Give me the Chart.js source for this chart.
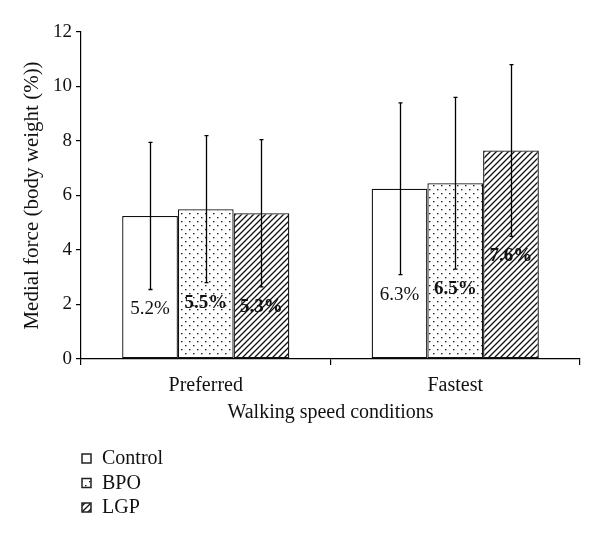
<!DOCTYPE html>
<html>
<head>
<meta charset="utf-8">
<script src="https://cdn.jsdelivr.net/npm/chart.js@4.4.0/dist/chart.umd.min.js"></script>
<style>
  html, body { margin: 0; padding: 0; background: #fff; }
  #wrap { width: 600px; height: 539px; position: relative; }
</style>
</head>
<body>
<div id="wrap"><canvas id="chart" width="600" height="539"></canvas></div>
<script>
// Datos
const categories = ['Preferred', 'Fastest'];
const seriesNames = ['Control', 'BPO', 'LGP'];
const controlMean = [5.25, 6.25];
const bpoMean = [5.5, 6.45];
const lgpMean = [5.35, 7.65];
const controlSD = [2.7, 3.15];
const bpoSD = [2.7, 3.15];
const lgpSD = [2.7, 3.15];
const controlLabels = ['5.2%', '6.3%'];
const bpoLabels = ['5.5%', '6.5%'];
const lgpLabels = ['5.3%', '7.6%'];
const yTicks = [0, 2, 4, 6, 8, 10, 12];

const FONT = '"Liberation Serif", "DejaVu Serif", serif';

// Patrones de relleno
function dotPattern() {
    const c = document.createElement('canvas');
    c.width = 8; c.height = 8;
    const g = c.getContext('2d');
    g.fillStyle = '#fff';
    g.fillRect(0, 0, 8, 8);
    g.fillStyle = '#222';
    g.fillRect(1, 1, 1.5, 1.3);
    g.fillRect(5, 5, 1.5, 1.3);
    return g.createPattern(c, 'repeat');
}

function hatchPattern() {
    const s = 6;
    const c = document.createElement('canvas');
    c.width = s; c.height = s;
    const g = c.getContext('2d');
    g.fillStyle = '#fff';
    g.fillRect(0, 0, s, s);
    g.strokeStyle = '#111';
    g.lineWidth = 1.3;
    g.beginPath();
    g.moveTo(-1, s + 1); g.lineTo(s + 1, -1);
    g.moveTo(-1, 1); g.lineTo(1, -1);
    g.moveTo(s - 1, s + 1); g.lineTo(s + 1, s - 1);
    g.stroke();
    return g.createPattern(c, 'repeat');
}

const fills = ['#ffffff', dotPattern(), hatchPattern()];
const sds = [controlSD, bpoSD, lgpSD];
const valueLabels = [controlLabels, bpoLabels, lgpLabels];
const boldLabel = [false, true, true];

// Barras de error y etiquetas
const errorBars = {
    id: 'errorBars',
    afterDatasetsDraw(chart) {
        const ctx = chart.ctx;
        const y = chart.scales.y;
        ctx.save();
        chart.data.datasets.forEach((ds, i) => {
            const meta = chart.getDatasetMeta(i);
            meta.data.forEach((bar, j) => {
                const m = ds.data[j];
                const sd = sds[i][j];
                const yt = y.getPixelForValue(m + sd);
                const yb = y.getPixelForValue(m - sd);
                const x = Math.round(bar.x) + 0.5;
                ctx.strokeStyle = '#000';
                ctx.lineWidth = 1.3;
                ctx.beginPath();
                ctx.moveTo(x, yt); ctx.lineTo(x, yb);
                ctx.moveTo(x - 2, yt); ctx.lineTo(x + 2, yt);
                ctx.moveTo(x - 2, yb); ctx.lineTo(x + 2, yb);
                ctx.stroke();
                ctx.fillStyle = '#111';
                ctx.font = (boldLabel[i] ? 'bold ' : '') + '19px ' + FONT;
                ctx.textAlign = 'center';
                ctx.textBaseline = 'middle';
                ctx.fillText(valueLabels[i][j], bar.x, yb + 20);
            });
        });
        ctx.restore();
    }
};

// Leyenda vertical abajo a la izquierda
const legendBox = {
    id: 'legendBox',
    afterDraw(chart) {
        const ctx = chart.ctx;
        ctx.save();
        chart.data.datasets.forEach((ds, i) => {
            const cy = 459 + i * 24.5;
            ctx.fillStyle = ds.backgroundColor;
            ctx.fillRect(82, cy - 5, 9, 9);
            ctx.strokeStyle = '#222';
            ctx.lineWidth = 1.5;
            ctx.strokeRect(82, cy - 5, 9, 9);
            ctx.fillStyle = '#111';
            ctx.font = '20px ' + FONT;
            ctx.textAlign = 'left';
            ctx.textBaseline = 'middle';
            ctx.fillText(ds.label, 102, cy);
        });
        ctx.restore();
    }
};

new Chart(document.getElementById('chart'), {
    type: 'bar',
    data: {
        labels: categories,
        datasets: [
            { label: seriesNames[0], data: controlMean, backgroundColor: fills[0] },
            { label: seriesNames[1], data: bpoMean, backgroundColor: fills[1] },
            { label: seriesNames[2], data: lgpMean, backgroundColor: fills[2] }
        ].map(d => Object.assign(d, { borderColor: '#111', borderWidth: 1.3, borderSkipped: false }))
    },
    options: {
        responsive: false,
        animation: false,
        layout: { padding: { top: 32, right: 20, bottom: 110, left: 0 } },
        datasets: { bar: { categoryPercentage: 0.67, barPercentage: 1 } },
        plugins: { legend: { display: false }, tooltip: { enabled: false } },
        scales: {
            x: {
                offset: true,
                grid: { offset: true, drawOnChartArea: false, tickLength: 6, color: '#000', lineWidth: 1.2 },
                border: { color: '#000', width: 1.2 },
                ticks: { color: '#111', font: { family: FONT, size: 20 }, padding: 9 },
                title: { display: true, text: 'Walking speed conditions', color: '#111', font: { family: FONT, size: 20 }, padding: { top: 2 } },
                afterFit: s => { s.height = 70; }
            },
            y: {
                min: 0,
                max: 12,
                afterBuildTicks: s => { s.ticks = yTicks.map(v => ({ value: v })); },
                grid: { drawOnChartArea: false, tickLength: 5, color: '#000', lineWidth: 1.2 },
                border: { color: '#000', width: 1.2 },
                ticks: { color: '#111', font: { family: FONT, size: 19 }, padding: 4 },
                title: { display: true, text: 'Medial force (body weight (%))', color: '#111', font: { family: FONT, size: 21 }, padding: { top: 20, bottom: 6 } },
                afterFit: s => { s.width = 81; }
            }
        }
    },
    plugins: [errorBars, legendBox]
});
</script>
</body>
</html>
